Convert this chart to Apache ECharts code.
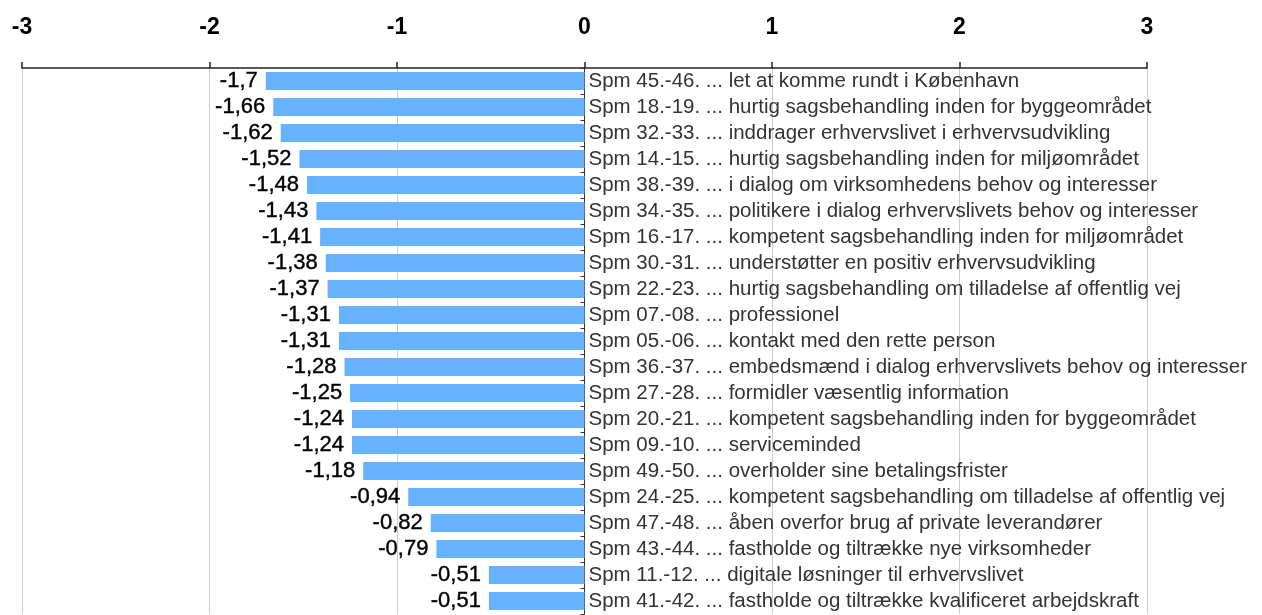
<!DOCTYPE html>
<html>
<head>
<meta charset="utf-8">
<script src="https://cdn.jsdelivr.net/npm/echarts@6/dist/echarts.min.js"></script>
<style>
html,body{margin:0;padding:0;background:#fff;}
#chart{width:1262px;height:615px;}
</style>
</head>
<body>
<div id="chart"></div>
<script>
const categories = [
  "Spm 45.-46. ... let at komme rundt i København",
  "Spm 18.-19. ... hurtig sagsbehandling inden for byggeområdet",
  "Spm 32.-33. ... inddrager erhvervslivet i erhvervsudvikling",
  "Spm 14.-15. ... hurtig sagsbehandling inden for miljøområdet",
  "Spm 38.-39. ... i dialog om virksomhedens behov og interesser",
  "Spm 34.-35. ... politikere i dialog erhvervslivets behov og interesser",
  "Spm 16.-17. ... kompetent sagsbehandling inden for miljøområdet",
  "Spm 30.-31. ... understøtter en positiv erhvervsudvikling",
  "Spm 22.-23. ... hurtig sagsbehandling om tilladelse af offentlig vej",
  "Spm 07.-08. ... professionel",
  "Spm 05.-06. ... kontakt med den rette person",
  "Spm 36.-37. ... embedsmænd i dialog erhvervslivets behov og interesser",
  "Spm 27.-28. ... formidler væsentlig information",
  "Spm 20.-21. ... kompetent sagsbehandling inden for byggeområdet",
  "Spm 09.-10. ... serviceminded",
  "Spm 49.-50. ... overholder sine betalingsfrister",
  "Spm 24.-25. ... kompetent sagsbehandling om tilladelse af offentlig vej",
  "Spm 47.-48. ... åben overfor brug af private leverandører",
  "Spm 43.-44. ... fastholde og tiltrække nye virksomheder",
  "Spm 11.-12. ... digitale løsninger til erhvervslivet",
  "Spm 41.-42. ... fastholde og tiltrække kvalificeret arbejdskraft"
];
const values = [-1.7, -1.66, -1.62, -1.52, -1.48, -1.43, -1.41, -1.38, -1.37, -1.31, -1.31, -1.28, -1.25, -1.24, -1.24, -1.18, -0.94, -0.82, -0.79, -0.51, -0.51];
const axisMin = -3, axisMax = 3, axisStep = 1;

const chart = echarts.init(document.getElementById('chart'), null, {renderer: 'canvas'});
chart.setOption({
  animation: false,
  backgroundColor: '#ffffff',
  grid: {left: 22, right: 115, top: 68, bottom: 1, containLabel: false},
  xAxis: {
    type: 'value', position: 'top', min: axisMin, max: axisMax, interval: axisStep,
    axisLine: {show: true, lineStyle: {color: '#222', width: 1.5}},
    axisTick: {show: true, length: 6, lineStyle: {color: '#222', width: 1.5}},
    splitLine: {show: true, lineStyle: {color: '#cccccc', width: 1}},
    axisLabel: {margin: 29, fontFamily: 'Liberation Sans, Arial', fontWeight: 'bold', fontSize: 23, color: '#000',
      formatter: v => String(v)}
  },
  yAxis: {
    type: 'category', data: categories, inverse: true, position: 'left', offset: -562.5,
    axisLine: {show: true, onZero: false, lineStyle: {color: '#333', width: 1}},
    axisTick: {show: true, length: 4, inside: false, lineStyle: {color: '#333'}},
    axisLabel: {inside: true, interval: 0, margin: 4, fontFamily: 'Liberation Sans, Arial', fontSize: 20.5, color: '#333'},
    splitLine: {show: false}
  },
  series: [{
    type: 'bar', data: values, barWidth: 18,
    itemStyle: {color: '#66b2ff'},
    label: {show: true, position: 'left', distance: 8, fontFamily: 'Liberation Sans, Arial', fontSize: 22, color: '#000',
      textBorderColor: '#000', textBorderWidth: 0.4,
      formatter: p => String(p.value).replace('.', ',')}
  }]
});
</script>
</body>
</html>
